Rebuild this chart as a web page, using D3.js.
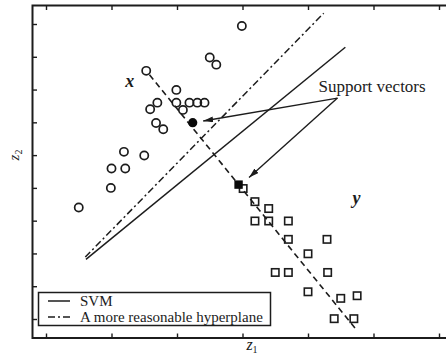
<!DOCTYPE html>
<html>
<head>
<meta charset="utf-8">
<script src="https://cdn.jsdelivr.net/npm/d3@7"></script>
<style>
  html, body { margin: 0; padding: 0; background: #fff; }
  svg { display: block; }
  text { font-family: "Liberation Serif", "Times New Roman", serif; fill: #1c1c1c; }
</style>
</head>
<body>
<svg id="chart" width="446" height="357"></svg>
<script>
// Class x samples (open circles), [z1, z2]
const classX = [
  [2.53, 8.57], [2.99, 7.99], [2.70, 7.60], [2.59, 7.40], [2.99, 7.60],
  [3.09, 7.38], [3.19, 7.60], [3.31, 7.60], [3.42, 7.60], [2.68, 6.98],
  [2.79, 6.79], [3.50, 8.98], [3.60, 8.76], [2.19, 6.10], [2.50, 5.99],
  [2.00, 5.59], [2.21, 5.59], [1.99, 5.00], [1.50, 4.40], [3.99, 9.94]
];
// Class y samples (open squares), [z1, z2]
const classY = [
  [4.01, 4.98], [4.19, 4.58], [4.40, 4.37], [4.19, 3.99], [4.40, 3.99],
  [4.70, 3.99], [4.70, 3.43], [5.29, 3.43], [5.00, 2.99], [4.50, 2.42],
  [4.70, 2.42], [5.30, 2.42], [5.00, 1.83], [5.50, 1.63], [5.75, 1.71],
  [5.40, 1.01], [5.70, 1.01]
];
// Support vectors of each class
const supportX = [[3.24, 6.99]];
const supportY = [[3.94, 5.10]];

// Separating lines, given by their two end points
const svmLine = [[1.61, 2.82], [5.57, 9.29]];
const betterLine = [[1.60, 2.89], [5.24, 10.33]];
// Line joining the two classes through the support vectors
const joinLine = [[2.58, 8.45], [5.74, 0.67]];

// Annotation arrows: shared tail, one tip per support vector
const arrowTail = [5.45, 7.74];
const arrowTips = [[3.40, 7.04], [4.10, 5.32]];

const xTicks = [1, 2, 3, 4, 5, 6, 7];
const yTicks = [1, 2, 3, 4, 5, 6, 7, 8, 9, 10];

const legendItems = [
  { label: "SVM", dash: null },
  { label: "A more reasonable hyperplane", dash: "7,3,2,3" }
];

const ink = "#1c1c1c";
const svg = d3.select("#chart");

// Plot frame (the right edge runs past the canvas)
const frame = { left: 32.5, right: 453, top: 5.5, bottom: 338 };

const x = d3.scaleLinear().domain([1, 7]).range([46, 439]);
const y = d3.scaleLinear().domain([1, 10]).range([319, 24]);

// Axes with inward ticks and no labels
const axes = svg.append("g").attr("class", "axes");
axes.append("g").attr("transform", `translate(0,${frame.bottom})`)
  .call(d3.axisBottom(x).tickValues(xTicks).tickSize(-4.5).tickSizeOuter(0).tickFormat(""));
axes.append("g").attr("transform", `translate(0,${frame.top})`)
  .call(d3.axisTop(x).tickValues(xTicks).tickSize(-4.5).tickSizeOuter(0).tickFormat(""));
axes.append("g").attr("transform", `translate(${frame.left},0)`)
  .call(d3.axisLeft(y).tickValues(yTicks).tickSize(-4.5).tickSizeOuter(0).tickFormat(""));
axes.selectAll(".domain").remove();
axes.selectAll(".tick line").attr("stroke", ink).attr("stroke-width", 1.4);

// Frame edges
axes.append("path")
  .attr("d", `M${frame.right},${frame.top}H${frame.left}V${frame.bottom}H${frame.right}`)
  .attr("fill", "none").attr("stroke", ink).attr("stroke-width", 2);

// Separating hyperplanes
const line = d3.line().x(d => x(d[0])).y(d => y(d[1]));
const plot = svg.append("g").attr("class", "plot");
plot.append("path").datum(svmLine).attr("d", line)
  .attr("fill", "none").attr("stroke", ink).attr("stroke-width", 1.5);
plot.append("path").datum(betterLine).attr("d", line)
  .attr("fill", "none").attr("stroke", ink).attr("stroke-width", 1.5)
  .attr("stroke-dasharray", "7,3,2,3");
plot.append("path").datum(joinLine).attr("d", line)
  .attr("fill", "none").attr("stroke", ink).attr("stroke-width", 1.6)
  .attr("stroke-dasharray", "6,4");

// Samples
plot.selectAll("circle.cx").data(classX).join("circle")
  .attr("class", "cx")
  .attr("cx", d => x(d[0])).attr("cy", d => y(d[1])).attr("r", 4.1)
  .attr("fill", "none").attr("stroke", ink).attr("stroke-width", 1.7);
plot.selectAll("circle.sx").data(supportX).join("circle")
  .attr("class", "sx")
  .attr("cx", d => x(d[0])).attr("cy", d => y(d[1])).attr("r", 4.6)
  .attr("fill", "#0a0a0a");
const sq = 7.4;
plot.selectAll("rect.cy").data(classY).join("rect")
  .attr("class", "cy")
  .attr("x", d => x(d[0]) - sq / 2).attr("y", d => y(d[1]) - sq / 2)
  .attr("width", sq).attr("height", sq)
  .attr("fill", "none").attr("stroke", ink).attr("stroke-width", 1.6);
plot.selectAll("rect.sy").data(supportY).join("rect")
  .attr("class", "sy")
  .attr("x", d => x(d[0]) - 4.2).attr("y", d => y(d[1]) - 4.2)
  .attr("width", 8.4).attr("height", 8.4)
  .attr("fill", "#0a0a0a");

// Arrows pointing at the support vectors
svg.append("defs").append("marker")
  .attr("id", "head").attr("markerUnits", "userSpaceOnUse")
  .attr("viewBox", "0 0 10 6").attr("refX", 10).attr("refY", 3)
  .attr("markerWidth", 10).attr("markerHeight", 6).attr("orient", "auto")
  .append("path").attr("d", "M0,0L10,3L0,6Z").attr("fill", ink);
plot.selectAll("path.arrow").data(arrowTips).join("path")
  .attr("class", "arrow")
  .attr("d", d => line([arrowTail, d]))
  .attr("fill", "none").attr("stroke", ink).attr("stroke-width", 1.4)
  .attr("marker-end", "url(#head)");

svg.append("text")
  .attr("x", x(arrowTail[0]) - 19).attr("y", y(arrowTail[1]) - 6.5)
  .attr("font-size", 17).text("Support vectors");

// Class labels
svg.append("text")
  .attr("x", x(2.28)).attr("y", y(8.24) + 5)
  .attr("text-anchor", "middle").attr("font-size", 18)
  .attr("font-style", "italic").attr("font-weight", "bold").text("x");
svg.append("text")
  .attr("x", x(5.74)).attr("y", y(4.64) + 4)
  .attr("text-anchor", "middle").attr("font-size", 18)
  .attr("font-style", "italic").attr("font-weight", "bold").text("y");

// Axis titles
const xTitle = svg.append("text")
  .attr("x", 252).attr("y", 350).attr("text-anchor", "middle")
  .attr("font-size", 16).attr("font-style", "italic");
xTitle.append("tspan").text("z");
xTitle.append("tspan").attr("font-size", 10).attr("font-style", "normal")
  .attr("dy", 2.5).text("1");

const yTitle = svg.append("text")
  .attr("transform", "translate(19,155) rotate(-90)")
  .attr("text-anchor", "middle").attr("font-size", 15).attr("font-style", "italic");
yTitle.append("tspan").text("z");
yTitle.append("tspan").attr("font-size", 10).attr("font-style", "normal")
  .attr("dy", 3).text("2");

// Legend
const legend = svg.append("g").attr("class", "legend");
legend.append("rect")
  .attr("x", 38.5).attr("y", 292.5).attr("width", 232).attr("height", 33)
  .attr("fill", "#fff").attr("stroke", ink).attr("stroke-width", 1.5);
const rows = legend.selectAll("g.row").data(legendItems).join("g")
  .attr("class", "row")
  .attr("transform", (d, i) => `translate(0,${301 + i * 16})`);
rows.append("line")
  .attr("x1", 48).attr("x2", 70).attr("y1", 0).attr("y2", 0)
  .attr("stroke", ink).attr("stroke-width", 1.5)
  .attr("stroke-dasharray", d => d.dash);
rows.append("text")
  .attr("x", 80).attr("y", 5).attr("font-size", 15).text(d => d.label);
</script>
</body>
</html>
